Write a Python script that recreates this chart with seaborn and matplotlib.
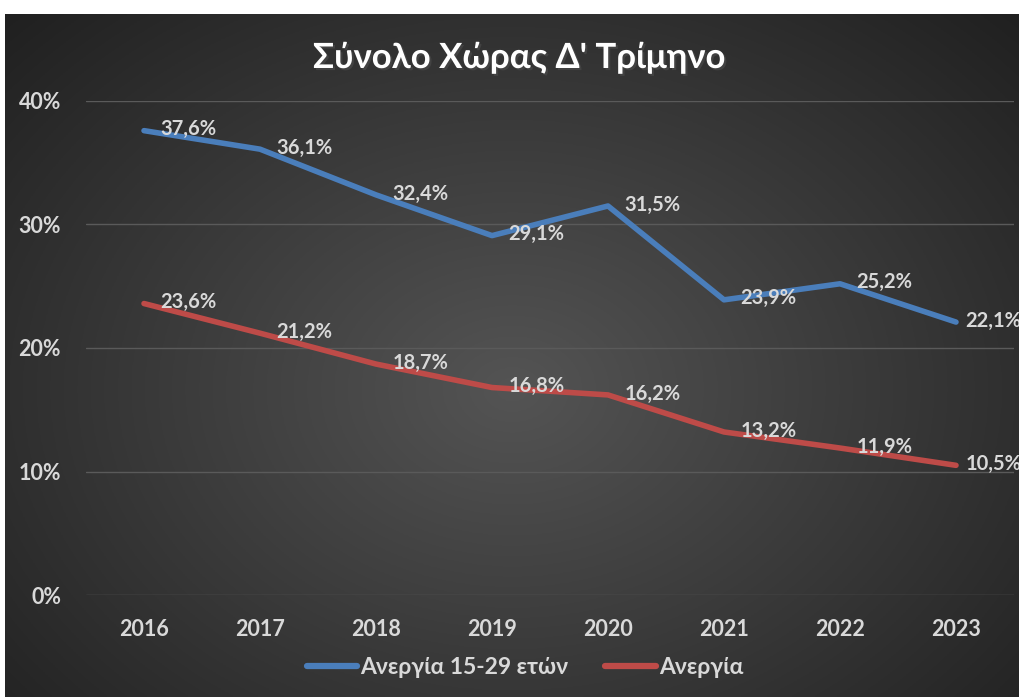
import numpy as np
import pandas as pd
import matplotlib
matplotlib.use("Agg")
import matplotlib.pyplot as plt
import matplotlib.patheffects as pe
import seaborn as sns

# Data
years = ["2016", "2017", "2018", "2019", "2020", "2021", "2022", "2023"]
youth = [37.6, 36.1, 32.4, 29.1, 31.5, 23.9, 25.2, 22.1]
total = [23.6, 21.2, 18.7, 16.8, 16.2, 13.2, 11.9, 10.5]
series_names = ["Ανεργία 15-29 ετών", "Ανεργία"]
title = "Σύνολο Χώρας Δ' Τρίμηνο"

df = pd.DataFrame({
    "idx": list(range(len(years))) * 2,
    "value": youth + total,
    "series": [series_names[0]] * len(years) + [series_names[1]] * len(years),
})

sns.set_style("white")
plt.rcParams["font.family"] = ["Lato", "DejaVu Sans"]

fig = plt.figure(figsize=(10.2, 6.97), dpi=100)
fig.patch.set_facecolor("white")

# dark radial gradient background
bg = fig.add_axes([5 / 1020, 0, 1 - 5 / 1020, 1 - 14 / 697])
yy, xx = np.mgrid[0:1:300j, 0:1:400j]
r = np.sqrt(((xx - 0.5) / 0.75) ** 2 + ((yy - 0.55) / 0.85) ** 2)
shade = np.clip(0.33 - 0.22 * r, 0.1, 0.33)
bg.imshow(np.dstack([shade] * 3), aspect="auto", extent=[0, 1, 0, 1])
bg.set_axis_off()

ax = fig.add_axes([86 / 1020, 1 - 595 / 697, 928 / 1020, 494 / 697])
ax.patch.set_alpha(0)

palette = {series_names[0]: "#4A7EBB", series_names[1]: "#BE4B48"}
sns.lineplot(data=df, x="idx", y="value", hue="series", palette=palette,
             linewidth=4, ax=ax, legend=False, solid_capstyle="round")

last = len(years) - 1
for vals in (youth, total):
    for i, v in enumerate(vals):
        dx = 7 if i == last else 12  # keep the end labels inside the image
        ax.annotate(f"{v:.1f}%".replace(".", ","), (i, v), xytext=(dx, 1),
                    textcoords="offset points", ha="left", va="center",
                    fontsize=14.5, fontweight="bold", color="#D9D9D9",
                    annotation_clip=False)

ax.set_xlim(-0.5, 7.5)
ax.set_ylim(0, 40)
ax.set_yticks([0, 10, 20, 30, 40])
ax.set_yticklabels([f"{t}%" for t in [0, 10, 20, 30, 40]])
ax.set_xticks(range(len(years)))
ax.set_xticklabels(years)
ax.tick_params(axis="both", length=0, colors="#D9D9D9", labelsize=15.5)
ax.tick_params(axis="x", pad=17)
ax.tick_params(axis="y", pad=18)
for lab in ax.get_xticklabels() + ax.get_yticklabels():
    lab.set_fontweight("bold")
ax.grid(axis="y", color="#5A5A5A", linewidth=1)
ax.set_xlabel("")
ax.set_ylabel("")
sns.despine(ax=ax, left=True, bottom=True)

fig.text(519 / 1020, 1 - 58 / 697, title, ha="center", va="center",
         fontsize=25, fontweight="bold", color="white",
         path_effects=[pe.withSimplePatchShadow(offset=(1.5, -1.5), alpha=0.6)])

handles = [plt.Line2D([0], [0], color=palette[s], linewidth=4.5) for s in series_names]
leg = fig.legend(handles, series_names, loc="center", ncol=2,
                 bbox_to_anchor=(525 / 1020, 1 - 668 / 697), frameon=False,
                 prop={"size": 16.5, "weight": "bold"}, handlelength=2.2,
                 handletextpad=0.15, columnspacing=1.6)
for t in leg.get_texts():
    t.set_color("#D9D9D9")

fig.savefig("out.png", dpi=100)
